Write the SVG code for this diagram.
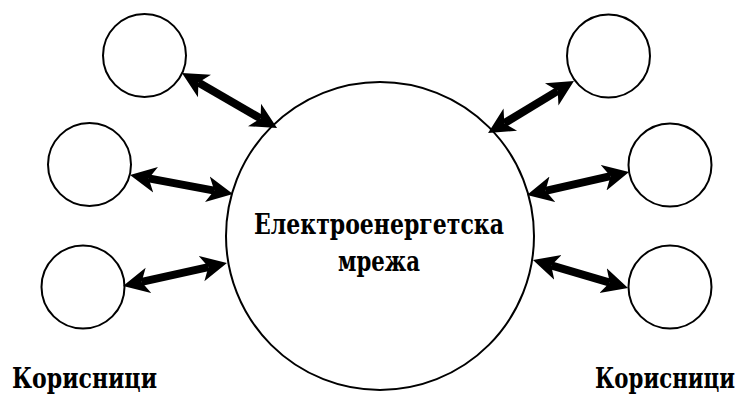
<svg xmlns="http://www.w3.org/2000/svg" width="747" height="396" viewBox="0 0 747 396">
<style>
.node{fill:#fff;stroke:#000;stroke-width:2}
.lbl{font-family:"DejaVu Serif",serif;font-weight:700;font-size:27px;fill:#000}
.conn{stroke:#000;stroke-width:8;fill:none;marker-start:url(#ah);marker-end:url(#ah)}
</style>
<defs>
<marker id="ah" markerUnits="userSpaceOnUse" markerWidth="28" markerHeight="28" viewBox="0 0 28 28" refX="7" refY="14" orient="auto-start-reverse">
<path d="M0,1 L26,14 L0,27 L7,14 z" fill="#000"/>
</marker>
</defs>
<rect width="747" height="396" fill="#fff"/>
<g id="grid">
<circle class="node" cx="380" cy="236" r="154"/>
<text class="lbl" x="379" y="234" text-anchor="middle" textLength="250" lengthAdjust="spacingAndGlyphs">Електроенергетска</text>
<text class="lbl" x="379" y="271" text-anchor="middle" textLength="82" lengthAdjust="spacingAndGlyphs">мрежа</text>
</g>
<g id="user-l1"><circle class="node" cx="144.5" cy="55.5" r="41.5"/></g>
<g id="user-l2"><circle class="node" cx="89.5" cy="164.5" r="41.5"/></g>
<g id="user-l3"><circle class="node" cx="83" cy="287" r="41.5"/></g>
<g id="user-r1"><circle class="node" cx="608.5" cy="56" r="41.5"/></g>
<g id="user-r2"><circle class="node" cx="670" cy="165" r="41.5"/></g>
<g id="user-r3"><circle class="node" cx="670" cy="287" r="41.5"/></g>
<g id="label-left"><text class="lbl" x="12" y="388" textLength="145" lengthAdjust="spacingAndGlyphs">Корисници</text></g>
<g id="label-right"><text class="lbl" x="595" y="388" textLength="140" lengthAdjust="spacingAndGlyphs">Корисници</text></g>
<g id="connectors">
<line class="conn" x1="198.4" y1="82.5" x2="260.6" y2="118.5"/>
<line class="conn" x1="148.7" y1="178.4" x2="214.3" y2="190.6"/>
<line class="conn" x1="141.6" y1="281.9" x2="208.4" y2="267.1"/>
<line class="conn" x1="557.7" y1="90.8" x2="504.3" y2="123.2"/>
<line class="conn" x1="545.5" y1="190.8" x2="610.5" y2="176.2"/>
<line class="conn" x1="551.2" y1="265.4" x2="609.8" y2="282.6"/>
</g>
</svg>
